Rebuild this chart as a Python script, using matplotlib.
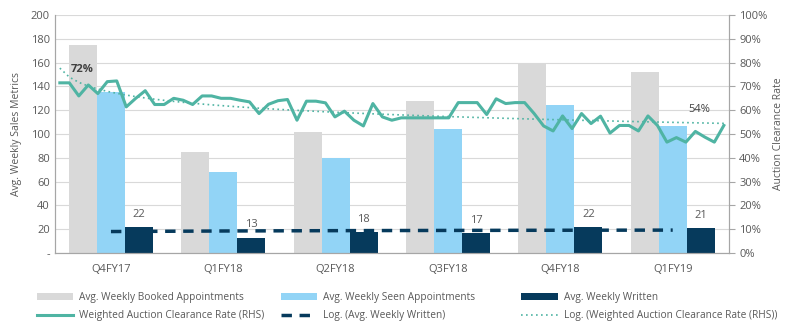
import numpy as np
import matplotlib.pyplot as plt
from matplotlib.ticker import FuncFormatter

# quarterly sales metrics
quarters = ["Q4FY17", "Q1FY18", "Q2FY18", "Q3FY18", "Q4FY18", "Q1FY19"]
booked = [175, 85, 102, 128, 160, 152]
seen = [135, 68, 80, 104, 124, 107]
written = [22, 13, 18, 17, 22, 21]

# weekly weighted auction clearance rate (%)
clearance = [71.5, 71.5, 66.0, 70.6, 67.0, 72.0, 72.3, 61.4, 65.0, 68.2,
             62.4, 62.4, 65.0, 64.2, 62.4, 66.0, 66.0, 65.0, 65.0, 64.2,
             63.5, 58.6, 62.5, 64.0, 64.5, 55.8, 63.8, 63.8, 63.1, 57.2,
             59.6, 55.8, 53.4, 62.8, 57.2, 55.8, 56.8, 56.8, 56.8, 56.8,
             56.8, 56.8, 63.2, 63.2, 63.2, 58.2, 64.8, 62.8, 63.2, 63.2,
             58.6, 53.4, 51.3, 57.6, 52.3, 58.6, 54.4, 57.5, 50.4, 53.6,
             53.6, 51.3, 57.6, 53.6, 46.6, 48.5, 46.6, 51.1, 48.7, 46.6,
             53.6]

c_booked = "#d9d9d9"
c_seen = "#92d4f6"
c_written = "#063a5c"
c_rate = "#4fb4a3"
txt = "#595959"

plt.rcParams['font.family'] = ['Open Sans', 'DejaVu Sans']
plt.rcParams['font.size'] = 7.5

fig = plt.figure(figsize=(7.94, 3.33), dpi=100)
ax = fig.add_axes([0.069, 0.24, 0.849, 0.715])
ax2 = ax.twinx()

x = np.arange(len(quarters))
w = 0.25
b_booked = ax.bar(x - w, booked, w, color=c_booked, zorder=2)
b_seen = ax.bar(x, seen, w, color=c_seen, zorder=2)
b_written = ax.bar(x + w, written, w, color=c_written, zorder=2)
for xi, v in zip(x, written):
    ax.text(xi + w, v + 6, str(v), ha="center", va="bottom", color=txt, fontsize=8)

# log trend of written
lx = np.log(np.arange(1, len(written) + 1))
b, a = np.polyfit(lx, written, 1)
l_wtrend, = ax.plot(x, a + b * lx, color=c_written, lw=2.5, ls=(0, (3, 2.2)), zorder=3)

# weekly line on secondary axis
n = len(clearance)
wx = np.linspace(-0.455, 5.455, n)
l_rate, = ax2.plot(wx, clearance, color=c_rate, lw=2.2, zorder=4)
lw_ = np.log(np.arange(1, n + 1))
b2, a2 = np.polyfit(lw_, clearance, 1)
l_rtrend, = ax2.plot(wx, a2 + b2 * lw_, color=c_rate, lw=1.2, ls=(0, (1, 2)), zorder=4)
ax2.text(wx[0] + 0.1, clearance[0] + 5.5, f"{clearance[0]:.0f}%", fontsize=8,
         color="#404040", fontweight="bold", ha="left", va="center")
ax2.text(wx[-1] - 0.12, clearance[-1] + 6.5, f"{clearance[-1]:.0f}%", fontsize=8,
         color="#404040", ha="right", va="center")

ax.set_xlim(-0.5, 5.5)
ax.set_ylim(0, 200)
ax2.set_ylim(0, 100)
ax.set_yticks(range(0, 201, 20))
ax.yaxis.set_major_formatter(FuncFormatter(lambda v, p: "-" if v == 0 else f"{v:.0f}"))
ax2.set_yticks(range(0, 101, 10))
ax2.yaxis.set_major_formatter(FuncFormatter(lambda v, p: f"{v:.0f}%"))
ax.set_xticks(x)
ax.set_xticklabels(quarters, fontsize=8)

ax.grid(axis="y", color="#d9d9d9", lw=0.8, zorder=0)
ax.set_axisbelow(True)
for a_ in (ax, ax2):
    a_.spines["top"].set_visible(False)
    for s in ("left", "right", "bottom"):
        a_.spines[s].set_color("#a6a6a6")
ax.tick_params(axis="x", length=0, colors=txt, pad=8)
ax.tick_params(axis="y", length=0, colors=txt, labelsize=8)
ax2.tick_params(axis="y", length=4, color="#a6a6a6", colors=txt, labelsize=8)
ax.set_ylabel("Avg. Weekly Sales Metrics", color=txt, fontsize=7.5, labelpad=6)
ax2.set_ylabel("Auction Clearance Rate", color=txt, fontsize=7.5)

# legend: three columns placed separately
cols = [
    ([b_booked, l_rate], ["Avg. Weekly Booked Appointments", "Weighted Auction Clearance Rate (RHS)"], 0.04),
    ([b_seen, l_wtrend], ["Avg. Weekly Seen Appointments", "Log. (Avg. Weekly Written)"], 0.347),
    ([b_written, l_rtrend], ["Avg. Weekly Written", "Log. (Weighted Auction Clearance Rate (RHS))"], 0.65),
]
for hs, ls, x0 in cols:
    fig.legend(hs, ls, loc="lower left", bbox_to_anchor=(x0, 0.02), ncol=1,
               frameon=False, fontsize=7.3, handlelength=3.6, handleheight=0.7,
               handletextpad=0.6, borderaxespad=0.3, borderpad=0.2,
               labelspacing=0.75, labelcolor=txt)

fig.savefig("out.png", dpi=100)
